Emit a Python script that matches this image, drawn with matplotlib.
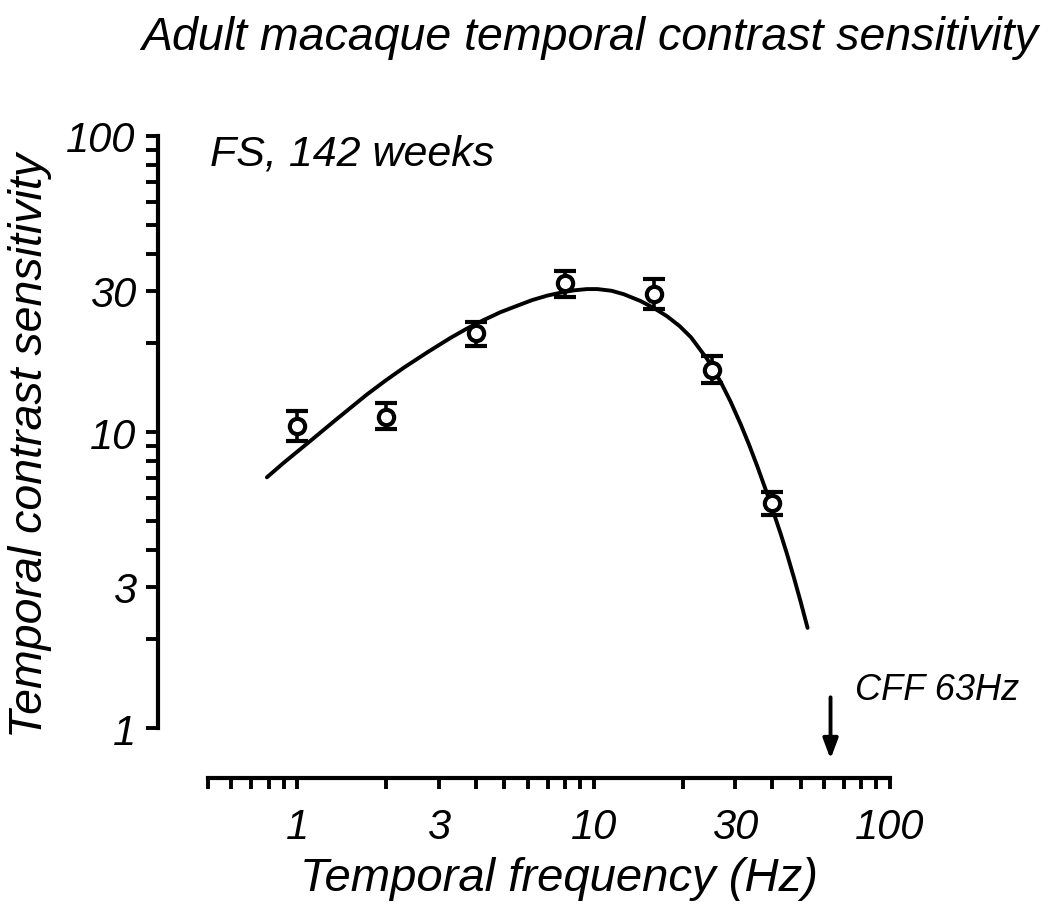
import matplotlib
matplotlib.use("Agg")
import matplotlib.pyplot as plt
from matplotlib.ticker import FixedLocator, NullFormatter

plt.rcParams['font.family'] = ['Liberation Sans', 'DejaVu Sans']

# --- Data --- #
freq = [1, 2, 4, 8, 16, 25, 40]
sens = [10.5, 11.2, 21.6, 31.9, 29.3, 16.2, 5.74]
err_hi = [11.8, 12.5, 23.6, 35.1, 32.9, 18.1, 6.26]
err_lo = [9.35, 10.2, 19.6, 28.5, 26.0, 14.6, 5.24]

# fitted curve
fit_x = [0.79, 0.9, 1.11, 1.35, 1.72, 2.0, 2.29, 2.75, 3.29, 3.75, 4.26,
         4.85, 5.52, 6.2, 6.98, 7.8, 8.58, 9.5, 10.3, 11.5, 12.65, 14.4,
         16.0, 17.7, 19.5, 21.3, 24.2, 26.9, 29.0, 31.4, 33.5, 35.7, 39.0,
         42.8, 45.0, 47.5, 50.0, 52.7]
fit_y = [7.03, 7.87, 9.35, 11.0, 13.4, 15.0, 16.5, 18.6, 20.8, 22.4, 23.9,
         25.4, 26.7, 27.9, 28.9, 29.6, 30.1, 30.4, 30.4, 30.0, 29.2, 27.7,
         26.2, 24.6, 22.8, 20.9, 17.6, 14.7, 12.65, 10.58, 9.03, 7.64, 5.97,
         4.52, 3.85, 3.20, 2.66, 2.18]

x_labels = [1, 3, 10, 30, 100]
x_minor = [0.5, 0.6, 0.7, 0.8, 0.9, 2, 4, 5, 6, 7, 8, 9,
           20, 40, 50, 60, 70, 80, 90]
y_labels = [1, 3, 10, 30, 100]
y_minor = [2, 4, 5, 6, 7, 8, 9, 20, 40, 50, 60, 70, 80, 90]

cff = 63

fig = plt.figure(figsize=(10.5, 9.12), dpi=100)
ax = fig.add_axes([158 / 1050, 1 - 779 / 912, 732 / 1050, 642 / 912])
ax.set_xscale("log")
ax.set_yscale("log")
ax.set_xlim(0.339, 100)
ax.set_ylim(0.678, 100)

# --- Curve and points --- #
ax.plot(fit_x, fit_y, color="black", lw=2.8, solid_capstyle="round",
        solid_joinstyle="round", zorder=2)
yerr = [[s - lo for s, lo in zip(sens, err_lo)],
        [hi - s for s, hi in zip(sens, err_hi)]]
ax.errorbar(freq, sens, yerr=yerr, fmt="o", ms=11, mfc="white", mec="black",
            mew=3.0, ecolor="black", elinewidth=2.6, capsize=8, capthick=3.0,
            zorder=3)

# --- Axes styling --- #
for side in ["top", "right"]:
    ax.spines[side].set_visible(False)
ax.spines["left"].set_bounds(1, 100)
ax.spines["bottom"].set_bounds(0.5, 100)
ax.spines["left"].set_linewidth(3.0)
ax.spines["bottom"].set_linewidth(3.0)

ax.xaxis.set_major_locator(FixedLocator(x_labels))
ax.xaxis.set_minor_locator(FixedLocator(x_minor))
ax.yaxis.set_major_locator(FixedLocator(y_labels))
ax.yaxis.set_minor_locator(FixedLocator(y_minor))
ax.set_xticklabels([str(v) for v in x_labels])
ax.set_yticklabels([str(v) for v in y_labels])
ax.xaxis.set_minor_formatter(NullFormatter())
ax.yaxis.set_minor_formatter(NullFormatter())
ax.tick_params(axis="both", which="both", direction="out", width=2.8,
               color="black")
ax.tick_params(axis="x", which="both", length=8, pad=13)
ax.tick_params(axis="y", which="both", length=9, pad=7)
for lab in ax.get_xticklabels() + ax.get_yticklabels():
    lab.set_fontsize(30)
    lab.set_fontstyle("italic")

ax.set_xlabel("Temporal frequency (Hz)", fontsize=34, style="italic")
ax.xaxis.set_label_coords(0.548, -0.155)
ax.xaxis.label.set_va("center")
ax.set_ylabel("Temporal contrast sensitivity", fontsize=33.5, style="italic")
ax.yaxis.set_label_coords(-0.175, 0.519)
ax.yaxis.label.set_va("center")

# --- Annotations --- #
ax.text(0.071, 0.972, "FS, 142 weeks", transform=ax.transAxes, fontsize=31,
        style="italic", ha="left", va="center")
ax.text(0.952, 0.1386, "CFF 63Hz", transform=ax.transAxes, fontsize=26,
        style="italic", ha="left", va="center")
ax.annotate("", xy=(cff, 0.786), xytext=(cff, 1.27),
            arrowprops=dict(arrowstyle="-|>,head_length=1.2,head_width=0.45",
                            color="black", lw=2.8, shrinkA=0, shrinkB=0))

fig.text(590 / 1050, 1 - 38 / 912, "Adult macaque temporal contrast sensitivity",
         fontsize=33.5, style="italic", ha="center", va="center")

fig.savefig("out.png", dpi=100)
